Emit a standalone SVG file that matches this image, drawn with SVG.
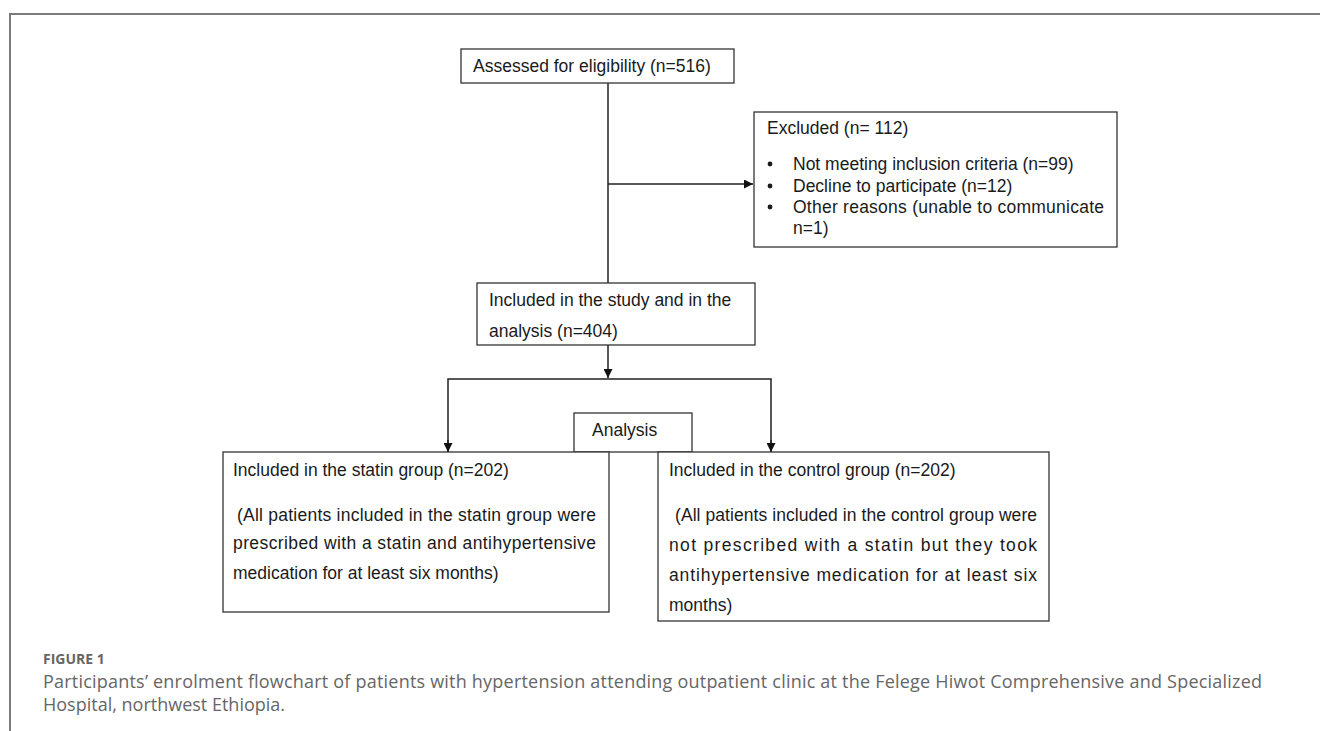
<svg xmlns="http://www.w3.org/2000/svg" width="1320" height="731" viewBox="0 0 1320 731">
<style>
.box{fill:#fff;stroke:#333;stroke-width:1.3}
.t{font-family:"Liberation Sans",Arial,sans-serif;font-size:17.5px;fill:#1a1a1a}
.ln{stroke:#222;stroke-width:1.5;fill:none}
.cap{font-family:"Open Sans","Noto Sans",sans-serif;fill:#666}
.dot{fill:#1a1a1a}
</style>
<defs>
<marker id="ah" viewBox="0 0 10 10" refX="10" refY="5" markerWidth="9" markerHeight="9" markerUnits="userSpaceOnUse" orient="auto">
<path d="M0,0 L10,5 L0,10 z" fill="#111"/>
</marker>
</defs>
<rect width="1320" height="731" fill="#fff"/>
<path d="M10,731 L10,14 L1320,14" fill="none" stroke="#7a7a7a" stroke-width="2"/>
<g id="connectors">
<path class="ln" d="M608,83 L608,283"/>
<path class="ln" d="M608,184 L753,184" marker-end="url(#ah)"/>
<path class="ln" d="M608,345 L608,378" marker-end="url(#ah)"/>
<path class="ln" d="M448,452 L448,379 L771,379 L771,452"/>
<path class="ln" d="M448,440 L448,452" marker-end="url(#ah)"/>
<path class="ln" d="M771,440 L771,452" marker-end="url(#ah)"/>
</g>
<g id="assessed">
<rect class="box" x="461" y="49" width="273" height="34"/>
<text class="t" x="473" y="72">Assessed for eligibility (n=516)</text>
</g>
<g id="excluded">
<rect class="box" x="754" y="112" width="363" height="135"/>
<text class="t" x="767" y="134">Excluded (n= 112)</text>
<circle class="dot" cx="770" cy="164" r="2.4"/>
<circle class="dot" cx="770" cy="186" r="2.4"/>
<circle class="dot" cx="770" cy="207" r="2.4"/>
<text class="t" x="793" y="170">Not meeting inclusion criteria (n=99)</text>
<text class="t" x="793" y="192">Decline to participate (n=12)</text>
<text class="t" x="793" y="213" textLength="311" lengthAdjust="spacing">Other reasons (unable to communicate</text>
<text class="t" x="793" y="234">n=1)</text>
</g>
<g id="included">
<rect class="box" x="477" y="283" width="278" height="62"/>
<text class="t" x="489" y="306">Included in the study and in the</text>
<text class="t" x="489" y="337">analysis (n=404)</text>
</g>
<g id="analysis">
<rect class="box" x="574" y="413" width="118" height="39"/>
<text class="t" x="592" y="436">Analysis</text>
</g>
<g id="statin">
<rect class="box" x="223" y="452" width="386" height="160"/>
<text class="t" x="233" y="476">Included in the statin group (n=202)</text>
<text class="t" x="237" y="521" textLength="359" lengthAdjust="spacing">(All patients included in the statin group were</text>
<text class="t" x="233" y="549" textLength="363" lengthAdjust="spacing">prescribed with a statin and antihypertensive</text>
<text class="t" x="233" y="579">medication for at least six months)</text>
</g>
<g id="control">
<rect class="box" x="658" y="452" width="391" height="169"/>
<text class="t" x="669" y="476">Included in the control group (n=202)</text>
<text class="t" x="675" y="521" textLength="362" lengthAdjust="spacing">(All patients included in the control group were</text>
<text class="t" x="669" y="551" textLength="368" lengthAdjust="spacing">not prescribed with a statin but they took</text>
<text class="t" x="669" y="581" textLength="368" lengthAdjust="spacing">antihypertensive medication for at least six</text>
<text class="t" x="669" y="611">months)</text>
</g>
<g id="caption">
<text class="cap" x="43" y="664" font-size="14" font-weight="bold" fill="#555">FIGURE 1</text>
<text class="cap" x="43" y="688" font-size="18" textLength="1219" lengthAdjust="spacing">Participants’ enrolment flowchart of patients with hypertension attending outpatient clinic at the Felege Hiwot Comprehensive and Specialized</text>
<text class="cap" x="43" y="711" font-size="18">Hospital, northwest Ethiopia.</text>
</g>
</svg>
